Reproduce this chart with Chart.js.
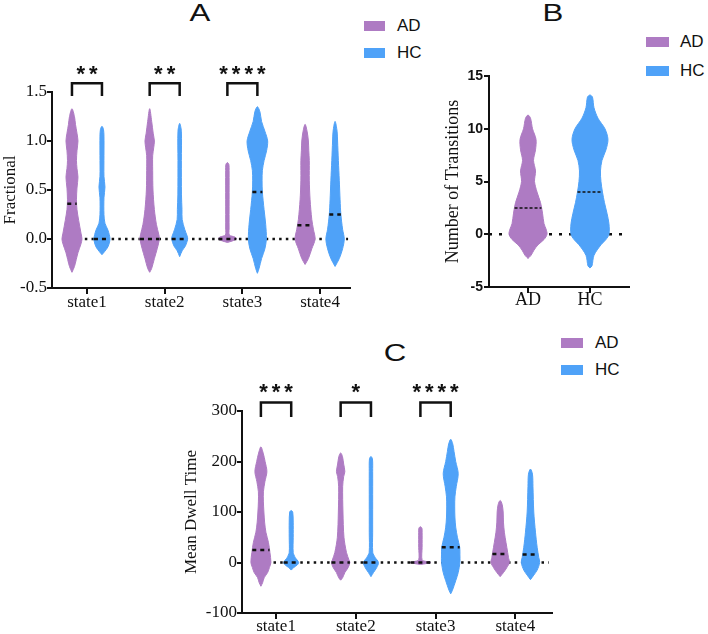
<!DOCTYPE html>
<html lang="en">
<head>
<meta charset="UTF-8" />
<title>Violin plots - AD vs HC</title>
<script src="https://cdn.jsdelivr.net/npm/chart.js"></script>
<style>
  body { margin: 0; width: 708px; height: 634px; overflow: hidden; background: #fff; position: relative;
         font-family: "Liberation Sans", Arial, sans-serif; color: #111; }
  canvas { position: absolute; }
  .ptitle { position: absolute; font-size: 24px; line-height: 1; transform: translate(-50%, -50%) scaleX(1.3); }
  .legend { position: absolute; font-size: 17px; }
  .legend div { display: flex; align-items: center; }
  .legend .sw { display: inline-block; height: 10px; }
  .ad { background: #ae7bc3; }
  .hc { background: #4fa2f8; }
</style>
</head>
<body>
  <div class="ptitle" style="left:200px; top:13px">A</div>
  <div class="ptitle" style="left:553px; top:13px">B</div>
  <div class="ptitle" style="left:395px; top:353px">C</div>

  <div class="legend" style="left:364px; top:12px">
    <div style="height:27px"><span class="sw ad" style="width:21px; margin-right:12px"></span>AD</div>
    <div style="height:27px"><span class="sw hc" style="width:21px; margin-right:12px"></span>HC</div>
  </div>
  <div class="legend" style="left:646px; top:27px">
    <div style="height:29px"><span class="sw ad" style="width:23px; margin-right:11px"></span>AD</div>
    <div style="height:29px"><span class="sw hc" style="width:23px; margin-right:11px"></span>HC</div>
  </div>
  <div class="legend" style="left:561px; top:329px">
    <div style="height:27px"><span class="sw ad" style="width:22px; margin-right:12px"></span>AD</div>
    <div style="height:27px"><span class="sw hc" style="width:22px; margin-right:12px"></span>HC</div>
  </div>

  <canvas id="chartA" width="360" height="320" style="left:0; top:0"></canvas>
  <canvas id="chartB" width="278" height="320" style="left:430px; top:0"></canvas>
  <canvas id="chartC" width="400" height="304" style="left:170px; top:330px"></canvas>

  <script>
    const stateLabels = ['state1', 'state2', 'state3', 'state4'];
    const groupLabels = ['AD', 'HC'];

    // violin outlines: [value, half-width] pairs, half-width (density)
    // A - Fractional
    const fracAD = [
      [[-0.34,0],[-0.28,2.5],[-0.14,6],[-0.05,9],[0,10],[0.06,9],[0.19,6.7],[0.3,5],[0.4,4.5],[0.52,5],[0.63,6],[0.72,5],[0.8,4.5],[0.9,5],[1.0,6],[1.08,5],[1.17,3.5],[1.25,2.5],[1.33,0]],
      [[-0.34,0],[-0.3,2],[-0.2,4.7],[-0.1,7.5],[0,9.7],[0.05,9],[0.15,6.7],[0.3,4.7],[0.5,3.3],[0.7,3],[0.85,3],[0.93,4],[1.0,4.7],[1.08,3.5],[1.2,2],[1.33,0]],
      [[-0.035,0],[-0.02,5],[0,9],[0.02,7.5],[0.04,2],[0.1,1.7],[0.4,1.7],[0.7,1.7],[0.76,1.5],[0.78,0]],
      [[-0.26,0],[-0.2,3.3],[-0.1,6.7],[0,10],[0.1,8.3],[0.2,6.7],[0.4,5],[0.6,4.2],[0.8,4.2],[0.9,3.7],[1.0,3.3],[1.1,2],[1.17,0]]
    ];
    const fracHC = [
      [[-0.16,0],[-0.13,2.5],[-0.08,6],[0,8],[0.09,6],[0.16,3],[0.25,2],[0.42,2],[0.53,3],[0.64,2],[0.85,2],[1.05,2],[1.12,1.5],[1.15,0]],
      [[-0.18,0],[-0.12,2.5],[-0.07,5.8],[0,8],[0.03,7.5],[0.1,5],[0.2,2.5],[0.3,2.3],[0.45,1.8],[0.8,1.7],[1.1,1.7],[1.18,0]],
      [[-0.35,0],[-0.3,1.7],[-0.2,4.2],[-0.1,7.5],[0,9],[0.15,8.3],[0.3,6.7],[0.48,5],[0.6,4.7],[0.7,5],[0.8,6.7],[0.9,9.2],[1.0,10.3],[1.1,7.5],[1.2,4.2],[1.3,2.5],[1.35,0]],
      [[-0.28,0],[-0.2,4.2],[-0.1,7.5],[0,9.2],[0.1,7.5],[0.25,5.8],[0.4,5],[0.6,4.2],[0.8,3.3],[1.0,2.5],[1.1,2],[1.2,0]]
    ];
    const fracMedianAD = [0.36, 0, 0, 0.14];
    const fracMedianHC = [0, 0, 0.48, 0.25];
    const fracStars = ['**', '**', '****', ''];
    const fracBracket = [1.46, 1.59, 1.72]; // leg end, bar, stars

    // B - Number of Transitions
    const transAD = [[-2.3,0],[-2,3],[-1.5,6],[-1,10],[-0.5,16],[0,19],[0.5,18],[1,16],[2,14.5],[3,12.5],[4,9],[5,6.5],[6,7.5],[7,5.5],[8,7.5],[9,8],[10,4.5],[11,2.5],[11.3,0]];
    const transHC = [[-3.2,0],[-3,2],[-2,4],[-1,11],[-0.5,16],[0,19],[1,19],[2,17],[3,14.5],[4,12.5],[5,11],[6,10.5],[7,12],[8,16],[9,18],[10,15],[11,8],[12,4],[13,2.5],[13.2,0]];
    const transMedian = [2.5, 4.0];

    // C - Mean Dwell Time
    const dwellAD = [
      [[-47,0],[-40,1.7],[-30,3.3],[-20,6.7],[-10,8.5],[0,10],[20,9],[40,7.5],[60,5],[80,3.7],[100,3],[120,2.5],[140,2.5],[160,4],[180,6],[200,4.2],[215,2.5],[229,0]],
      [[-35,0],[-30,2],[-20,4.2],[-10,7.5],[0,9.2],[5,8.3],[20,5.8],[50,3.3],[100,2.3],[150,2],[170,3],[180,4.2],[195,3],[210,1.8],[217,0]],
      [[-4,0],[-2,6],[0,10],[2,6],[5,1.7],[30,1.7],[60,1.7],[68,1.5],[71,0]],
      [[-28,0],[-20,3.3],[-10,6.7],[0,9.2],[10,8.3],[20,7.5],[40,5.8],[60,4.2],[80,3.3],[100,3],[115,2],[123,0]]
    ];
    const dwellHC = [
      [[-15,0],[-10,2.5],[-5,6],[0,7.5],[10,4],[20,2],[50,2],[80,2],[100,1.5],[103,0]],
      [[-28,0],[-20,2.5],[-10,5.8],[0,7.5],[10,4.2],[20,1.8],[60,1.7],[120,1.7],[180,1.7],[205,1.5],[210,0]],
      [[-62,0],[-55,1.7],[-36,5],[-20,7.5],[0,9.2],[15,9.2],[30,9],[50,6.7],[70,5],[90,4.2],[110,4],[130,4.2],[150,5.5],[176,7.5],[200,5],[220,3.3],[235,2],[244,0]],
      [[-34,0],[-25,3.3],[-15,6.7],[0,9.2],[10,8.3],[30,6.7],[60,5],[100,3.3],[150,2.5],[175,2],[185,0]]
    ];
    const dwellMedianAD = [25, 0, 0, 17];
    const dwellMedianHC = [0, 0, 30, 16];
    const dwellStars = ['***', '*', '****', ''];
    const dwellBracket = [288, 317, 345];

    const AD_COLOR = '#ae7bc3';
    const HC_COLOR = '#4fa2f8';
    const INK = '#111';
    const SERIF = '"Liberation Serif", "Times New Roman", serif';
    const SANS = '"Liberation Sans", Arial, sans-serif';

    function widthAt(shape, v) {
      for (let i = 1; i < shape.length; i++) {
        const [v0, w0] = shape[i - 1], [v1, w1] = shape[i];
        if (v >= v0 && v <= v1) return w0 + (w1 - w0) * (v - v0) / ((v1 - v0) || 1);
      }
      return 0;
    }

    // closed outline: right side going up, left side coming back down
    function violin(shape, center, k, color) {
      const right = shape.map(([v, w]) => ({ x: center + w * k, y: v }));
      const left = shape.slice(1, -1).reverse().map(([v, w]) => ({ x: center - w * k, y: v }));
      return {
        data: right.concat(left, [right[0]]),
        showLine: true, fill: 'shape', backgroundColor: color, borderColor: color, borderWidth: 1,
        pointRadius: 0, tension: 0.3, order: 1
      };
    }

    function medianLine(shape, center, k, m, dash, lw) {
      const w = Math.max(widthAt(shape, m), 2) * k;
      return {
        data: [{ x: center - w, y: m }, { x: center + w, y: m }],
        showLine: true, fill: false, borderColor: INK, borderWidth: lw, borderDash: dash,
        pointRadius: 0, order: 0
      };
    }

    function bracket(pos, off, levels) {
      const [leg, bar] = levels;
      return {
        data: [{ x: pos - off, y: leg }, { x: pos - off, y: bar }, { x: pos + off, y: bar }, { x: pos + off, y: leg }],
        showLine: true, fill: false, borderColor: INK, borderWidth: 2.5, borderJoinStyle: 'miter',
        pointRadius: 0, clip: false, order: 0
      };
    }

    function zeroLine(from, to, dash) {
      return {
        data: [{ x: from, y: 0 }, { x: to, y: 0 }],
        showLine: true, fill: false, borderColor: INK, borderWidth: 2.5, borderDash: dash,
        pointRadius: 0, order: 3
      };
    }

    function starLabels(labels, level) {
      return {
        id: 'stars',
        afterDatasetsDraw(chart) {
          if (!labels) return;
          const { ctx, scales: { x, y } } = chart;
          ctx.save();
          ctx.font = 'bold 22px ' + SANS;
          ctx.letterSpacing = '4px';
          ctx.fillStyle = INK;
          ctx.textAlign = 'center';
          ctx.textBaseline = 'alphabetic';
          labels.forEach((s, i) => {
            if (!s) return;
            const m = ctx.measureText(s);
            ctx.fillText(s, x.getPixelForValue(i + 1) + 2,
              y.getPixelForValue(level) + (m.actualBoundingBoxAscent - m.actualBoundingBoxDescent) / 2);
          });
          ctx.restore();
        }
      };
    }

    function axes(o) {
      return {
        x: {
          type: 'linear', min: o.xmin, max: o.xmax,
          afterBuildTicks: s => { s.ticks = o.cats.map((_, i) => ({ value: i + 1 })); },
          afterFit: s => { s.height = o.xh; },
          ticks: { callback: v => o.cats[v - 1], font: o.xFont, color: INK, padding: o.xPad, maxRotation: 0, autoSkip: false },
          grid: { drawOnChartArea: false, color: INK, lineWidth: 2, tickLength: 6 },
          border: { color: INK, width: 2 }
        },
        y: {
          min: o.ymin, max: o.ymax,
          afterFit: s => { s.width = o.yw; },
          ticks: { stepSize: o.step, callback: o.fmt, font: o.yFont, color: INK, padding: o.yPad },
          grid: { drawOnChartArea: false, color: INK, lineWidth: 2, tickLength: 5 },
          border: { color: INK, width: 2 },
          title: { display: true, text: o.title, font: o.titleFont, color: INK, padding: { top: o.titlePad, bottom: 0 } }
        }
      };
    }

    function options(padding, scales) {
      return {
        responsive: false, animation: false, events: [],
        layout: { padding },
        plugins: { legend: { display: false }, tooltip: { enabled: false } },
        scales
      };
    }

    // Panel A
    (function () {
      const k = 1 / 77.7, off = 0.193;
      const ds = [zeroLine(0.8, 4.36, [2.5, 4.2])];
      stateLabels.forEach((_, i) => {
        ds.push(violin(fracAD[i], i + 1 - off, k, AD_COLOR));
        ds.push(violin(fracHC[i], i + 1 + off, k, HC_COLOR));
        ds.push(medianLine(fracAD[i], i + 1 - off, k, fracMedianAD[i], [4, 4], 2.5));
        ds.push(medianLine(fracHC[i], i + 1 + off, k, fracMedianHC[i], [4, 4], 2.5));
        if (fracStars[i]) ds.push(bracket(i + 1, off, fracBracket));
      });
      new Chart(document.getElementById('chartA'), {
        type: 'scatter',
        data: { datasets: ds },
        options: options({ top: 92, right: 10, left: 0, bottom: 0 }, axes({
          cats: stateLabels, xmin: 0.55, xmax: 4.385, xh: 32, xPad: -2,
          xFont: { family: SERIF, size: 17 },
          ymin: -0.5, ymax: 1.5, step: 0.5, fmt: v => v.toFixed(1), yw: 52, yPad: 0,
          yFont: { family: SERIF, size: 17 },
          title: 'Fractional', titleFont: { family: SERIF, size: 17 }, titlePad: 0
        })),
        plugins: [starLabels(fracStars, fracBracket[2])]
      });
    })();

    // Panel B
    (function () {
      const k = 1 / 62;
      const ds = [
        zeroLine(0.37, 2.63, [3, 7]),
        violin(transAD, 1, k, AD_COLOR),
        violin(transHC, 2, k, HC_COLOR),
        medianLine(transAD, 1, k, transMedian[0], [3, 2], 1.5),
        medianLine(transHC, 2, k, transMedian[1], [3, 2], 1.5)
      ];
      new Chart(document.getElementById('chartB'), {
        type: 'scatter',
        data: { datasets: ds },
        options: options({ top: 76, right: 79, left: 0, bottom: 0 }, axes({
          cats: groupLabels, xmin: 0.37, xmax: 2.63, xh: 33, xPad: -4,
          xFont: { family: SERIF, size: 18 },
          ymin: -5, ymax: 15, step: 5, fmt: v => String(v), yw: 59, yPad: 1,
          yFont: { family: SANS, size: 14, weight: 'bold' },
          title: 'Number of Transitions', titleFont: { family: SERIF, size: 18 }, titlePad: 12.2
        }))
      });
    })();

    // Panel C
    (function () {
      const k = 1 / 79.7, off = 0.19;
      const ds = [zeroLine(0.8, 4.42, [2.5, 4.2])];
      stateLabels.forEach((_, i) => {
        ds.push(violin(dwellAD[i], i + 1 - off, k, AD_COLOR));
        ds.push(violin(dwellHC[i], i + 1 + off, k, HC_COLOR));
        ds.push(medianLine(dwellAD[i], i + 1 - off, k, dwellMedianAD[i], [4, 4], 2.5));
        ds.push(medianLine(dwellHC[i], i + 1 + off, k, dwellMedianHC[i], [4, 4], 2.5));
        if (dwellStars[i]) ds.push(bracket(i + 1, off, dwellBracket));
      });
      new Chart(document.getElementById('chartC'), {
        type: 'scatter',
        data: { datasets: ds },
        options: options({ top: 81, right: 18, left: 0, bottom: 0 }, axes({
          cats: stateLabels, xmin: 0.573, xmax: 4.46, xh: 21, xPad: -3,
          xFont: { family: SERIF, size: 17 },
          ymin: -100, ymax: 300, step: 100, fmt: v => String(v), yw: 72, yPad: 0,
          yFont: { family: SERIF, size: 17 },
          title: 'Mean Dwell Time', titleFont: { family: SERIF, size: 17 }, titlePad: 11.8
        })),
        plugins: [starLabels(dwellStars, dwellBracket[2])]
      });
    })();
  </script>
</body>
</html>
